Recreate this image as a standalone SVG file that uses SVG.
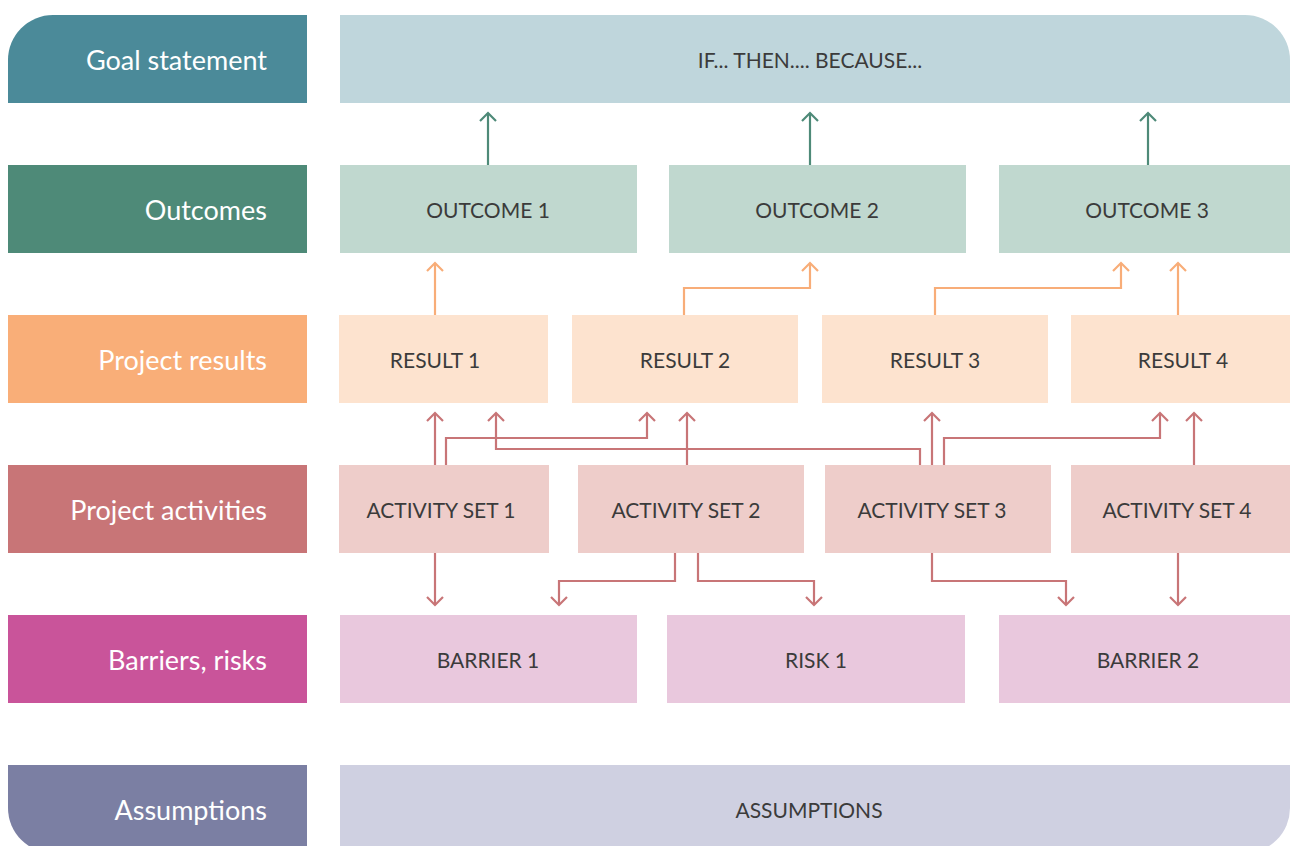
<svg xmlns="http://www.w3.org/2000/svg" width="1290" height="846" viewBox="0 0 1290 846">
  <defs>
    <style>
      .lbl { font-family: Lato, "Open Sans", sans-serif; font-size: 27px; fill: #ffffff; text-anchor: end; }
      .txt { font-family: Lato, "Open Sans", sans-serif; font-size: 21px; fill: #3b3b3b; text-anchor: middle; }
      .goal-c { fill: #4b8a99; } .goal-b { fill: #bfd6dc; }
      .out-c { fill: #4e8a78; } .out-b { fill: #c0d8cf; }
      .res-c { fill: #f9ae78; } .res-b { fill: #fde3cf; }
      .act-c { fill: #c87577; } .act-b { fill: #eecdca; }
      .bar-c { fill: #c9549a; } .bar-b { fill: #e9c8dd; }
      .asm-c { fill: #7b7fa3; } .asm-b { fill: #cfd0e1; }
      .ln { fill: none; stroke-width: 2.2; }
      .teal { stroke: #4e8a78; }
      .orange { stroke: #f8ad78; }
      .rose { stroke: #c87577; }
    </style>
    <marker id="ah-teal" viewBox="0 0 20 20" refX="10" refY="10" markerWidth="20" markerHeight="20" markerUnits="userSpaceOnUse" orient="auto">
      <path d="M2 2 L10 10 L2 18" fill="none" stroke="#4e8a78" stroke-width="2.2"/>
    </marker>
    <marker id="ah-orange" viewBox="0 0 20 20" refX="10" refY="10" markerWidth="20" markerHeight="20" markerUnits="userSpaceOnUse" orient="auto">
      <path d="M2 2 L10 10 L2 18" fill="none" stroke="#f8ad78" stroke-width="2.2"/>
    </marker>
    <marker id="ah-rose" viewBox="0 0 20 20" refX="10" refY="10" markerWidth="20" markerHeight="20" markerUnits="userSpaceOnUse" orient="auto">
      <path d="M2 2 L10 10 L2 18" fill="none" stroke="#c87577" stroke-width="2.2"/>
    </marker>
  </defs>

  <rect width="1290" height="846" fill="#ffffff"/>

  <!-- Row labels -->
  <g id="label-goal">
    <path class="goal-c" d="M8 103 V60 A45 45 0 0 1 53 15 H307 V103 Z"/>
    <text class="lbl" x="267" y="70">Goal statement</text>
  </g>
  <g id="label-outcomes">
    <rect class="out-c" x="8" y="165" width="299" height="88"/>
    <text class="lbl" x="267" y="220">Outcomes</text>
  </g>
  <g id="label-results">
    <rect class="res-c" x="8" y="315" width="299" height="88"/>
    <text class="lbl" x="267" y="370">Project results</text>
  </g>
  <g id="label-activities">
    <rect class="act-c" x="8" y="465" width="299" height="88"/>
    <text class="lbl" x="267" y="520">Project activities</text>
  </g>
  <g id="label-barriers">
    <rect class="bar-c" x="8" y="615" width="299" height="88"/>
    <text class="lbl" x="267" y="670">Barriers, risks</text>
  </g>
  <g id="label-assumptions">
    <path class="asm-c" d="M8 765 H307 V853 H53 A45 45 0 0 1 8 808 Z"/>
    <text class="lbl" x="267" y="820">Assumptions</text>
  </g>

  <!-- Goal statement -->
  <g id="goal">
    <path class="goal-b" d="M340 15 H1245 A45 45 0 0 1 1290 60 V103 H340 Z"/>
    <text class="txt" x="810" y="68">IF... THEN.... BECAUSE...</text>
  </g>

  <!-- Outcomes -->
  <g id="outcome-1">
    <rect class="out-b" x="340" y="165" width="297" height="88"/>
    <text class="txt" x="488" y="218">OUTCOME 1</text>
  </g>
  <g id="outcome-2">
    <rect class="out-b" x="669" y="165" width="297" height="88"/>
    <text class="txt" x="817" y="218">OUTCOME 2</text>
  </g>
  <g id="outcome-3">
    <rect class="out-b" x="999" y="165" width="291" height="88"/>
    <text class="txt" x="1147" y="218">OUTCOME 3</text>
  </g>

  <!-- Project results -->
  <g id="result-1">
    <rect class="res-b" x="339" y="315" width="209" height="88"/>
    <text class="txt" x="435" y="368">RESULT 1</text>
  </g>
  <g id="result-2">
    <rect class="res-b" x="572" y="315" width="226" height="88"/>
    <text class="txt" x="685" y="368">RESULT 2</text>
  </g>
  <g id="result-3">
    <rect class="res-b" x="822" y="315" width="226" height="88"/>
    <text class="txt" x="935" y="368">RESULT 3</text>
  </g>
  <g id="result-4">
    <rect class="res-b" x="1071" y="315" width="219" height="88"/>
    <text class="txt" x="1183" y="368">RESULT 4</text>
  </g>

  <!-- Project activities -->
  <g id="activity-1">
    <rect class="act-b" x="339" y="465" width="210" height="88"/>
    <text class="txt" x="441" y="518">ACTIVITY SET 1</text>
  </g>
  <g id="activity-2">
    <rect class="act-b" x="578" y="465" width="226" height="88"/>
    <text class="txt" x="686" y="518">ACTIVITY SET 2</text>
  </g>
  <g id="activity-3">
    <rect class="act-b" x="825" y="465" width="226" height="88"/>
    <text class="txt" x="932" y="518">ACTIVITY SET 3</text>
  </g>
  <g id="activity-4">
    <rect class="act-b" x="1071" y="465" width="219" height="88"/>
    <text class="txt" x="1177" y="518">ACTIVITY SET 4</text>
  </g>

  <!-- Barriers and risks -->
  <g id="barrier-1">
    <rect class="bar-b" x="340" y="615" width="297" height="88"/>
    <text class="txt" x="488" y="668">BARRIER 1</text>
  </g>
  <g id="risk-1">
    <rect class="bar-b" x="667" y="615" width="298" height="88"/>
    <text class="txt" x="816" y="668">RISK 1</text>
  </g>
  <g id="barrier-2">
    <rect class="bar-b" x="999" y="615" width="291" height="88"/>
    <text class="txt" x="1148" y="668">BARRIER 2</text>
  </g>

  <!-- Assumptions -->
  <g id="assumptions">
    <path class="asm-b" d="M340 765 H1290 V808 A45 45 0 0 1 1245 853 H340 Z"/>
    <text class="txt" x="809" y="818">ASSUMPTIONS</text>
  </g>

  <!-- Connectors -->
  <g id="connectors">
    <!-- outcomes to goal -->
    <path class="ln teal" d="M488 165 V113" marker-end="url(#ah-teal)"/>
    <path class="ln teal" d="M810 165 V113" marker-end="url(#ah-teal)"/>
    <path class="ln teal" d="M1148 165 V113" marker-end="url(#ah-teal)"/>

    <!-- results to outcomes -->
    <path class="ln orange" d="M435 315 V263" marker-end="url(#ah-orange)"/>
    <path class="ln orange" d="M684 315 V288 H810 V263" marker-end="url(#ah-orange)"/>
    <path class="ln orange" d="M935 315 V288 H1121 V263" marker-end="url(#ah-orange)"/>
    <path class="ln orange" d="M1178 315 V263" marker-end="url(#ah-orange)"/>

    <!-- activities to results -->
    <path class="ln rose" d="M435 465 V413" marker-end="url(#ah-rose)"/>
    <path class="ln rose" d="M446 465 V438 H647 V413" marker-end="url(#ah-rose)"/>
    <path class="ln rose" d="M920 465 V449 H496 V413" marker-end="url(#ah-rose)"/>
    <path class="ln rose" d="M687 465 V413" marker-end="url(#ah-rose)"/>
    <path class="ln rose" d="M932 465 V413" marker-end="url(#ah-rose)"/>
    <path class="ln rose" d="M944 465 V438 H1160 V413" marker-end="url(#ah-rose)"/>
    <path class="ln rose" d="M1194 465 V413" marker-end="url(#ah-rose)"/>

    <!-- activities to barriers and risks -->
    <path class="ln rose" d="M435 553 V605" marker-end="url(#ah-rose)"/>
    <path class="ln rose" d="M675 553 V581 H559 V605" marker-end="url(#ah-rose)"/>
    <path class="ln rose" d="M698 553 V581 H814 V605" marker-end="url(#ah-rose)"/>
    <path class="ln rose" d="M932 553 V581 H1066 V605" marker-end="url(#ah-rose)"/>
    <path class="ln rose" d="M1178 553 V605" marker-end="url(#ah-rose)"/>
  </g>
</svg>
